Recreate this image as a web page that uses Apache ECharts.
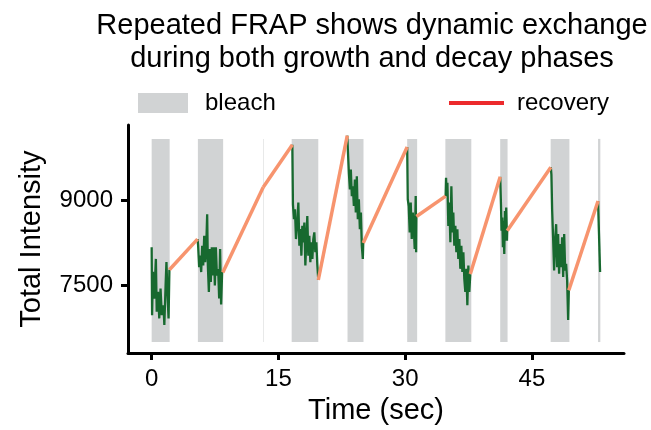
<!DOCTYPE html>
<html>
<head>
<meta charset="utf-8">
<script src="https://cdn.jsdelivr.net/npm/echarts@6/dist/echarts.min.js"></script>
<style>
  html, body { margin: 0; padding: 0; background: #fff; }
  #chart { width: 651px; height: 430px; }
</style>
</head>
<body>
<div id="chart"></div>
<script>
// bleach windows: [start sec, end sec]
const bleachSpans = [
  [0, 2.13], [5.47, 8.46], [13.18, 13.24], [16.57, 19.72], [23.18, 25.07],
  [30.24, 31.42], [34.76, 37.83], [41.25, 42.12], [47.22, 49.44], [52.83, 53.1],
]
const bleachRange = [6500, 10085]

// intensity traces during each bleach window, [sec, intensity]
const trace1 = [
  [0.0, 8172], [0.05, 6975], [0.15, 7740], [0.3, 7267], [0.5, 7967], [0.6, 7035],
  [0.75, 7385], [0.9, 6917], [1.05, 7442], [1.2, 6975], [1.4, 7150], [1.5, 6800],
  [1.65, 7500], [1.75, 7910], [1.85, 7442], [2.0, 6917], [2.1, 7775],
]
const trace2 = [
  [5.43, 8317], [5.5, 8200], [5.62, 7822], [5.74, 8025], [5.86, 7735], [5.98, 8200],
  [6.1, 7850], [6.22, 8375], [6.33, 7910], [6.45, 8140], [6.57, 8755], [6.65, 7850],
  [6.77, 7385], [6.89, 8142], [7.0, 7560], [7.12, 8172], [7.24, 7675], [7.36, 8172],
  [7.48, 7500], [7.6, 8172], [7.72, 7675], [7.87, 7790], [7.99, 7267], [8.1, 8142],
  [8.22, 7162], [8.34, 7735], [8.42, 7728],
]
const trace2b = [[13.2, 9233]]
const trace3 = [
  [16.65, 9980], [16.72, 8930], [16.84, 8667], [16.96, 8842], [17.08, 8317], [17.24, 8610],
  [17.36, 8960], [17.48, 8200], [17.6, 8492], [17.72, 8025], [17.83, 8550], [17.95, 8260],
  [18.07, 8610], [18.19, 7850], [18.31, 8317], [18.42, 8725], [18.54, 8025], [18.66, 8375],
  [18.78, 7910], [18.9, 8260], [19.02, 7967], [19.13, 8317], [19.25, 8435], [19.37, 8085],
  [19.49, 8260], [19.61, 7850], [19.72, 7595],
]
const trace4 = [
  [23.15, 10143], [23.22, 9892], [23.34, 9485], [23.46, 9192], [23.57, 9542], [23.69, 9075],
  [23.81, 9250], [23.93, 8900], [24.05, 9367], [24.16, 8785], [24.28, 9425], [24.4, 8667],
  [24.52, 9017], [24.64, 8492], [24.76, 8785], [24.87, 8200], [24.99, 7967], [25.04, 8247],
]
const trace5 = [
  [30.24, 9940], [30.31, 9017], [30.42, 8900], [30.54, 8435], [30.66, 8960], [30.78, 8317],
  [30.9, 8785], [31.01, 8550], [31.13, 8142], [31.25, 9075], [31.3, 8085], [31.33, 8715],
]
const trace6 = [
  [34.79, 9075], [34.84, 9397], [34.91, 9075], [35.0, 9310], [35.11, 8550], [35.23, 8960],
  [35.35, 8260], [35.47, 9250], [35.59, 8435], [35.7, 8785], [35.82, 8200], [35.94, 8550],
  [36.06, 8085], [36.18, 8492], [36.29, 7967], [36.41, 8317], [36.53, 7792], [36.65, 8200],
  [36.77, 7735], [36.89, 8085], [37.0, 7617], [37.12, 7385], [37.24, 7792], [37.36, 7150],
  [37.48, 7850], [37.59, 7385], [37.71, 7699],
]
const trace7 = [
  [41.25, 9415], [41.34, 8930], [41.41, 8463], [41.49, 8697], [41.57, 8172], [41.64, 8638],
  [41.73, 8055], [41.81, 8813], [41.88, 8288], [41.96, 8872], [42.05, 8288], [42.08, 8463],
]
const trace8 = [
  [47.24, 9583], [47.31, 9455], [47.4, 8813], [47.51, 8347], [47.63, 7763], [47.75, 8288],
  [47.87, 8580], [47.99, 7822], [48.1, 8405], [48.22, 7705], [48.34, 8230], [48.46, 7822],
  [48.58, 8347], [48.7, 7647], [48.82, 8405], [48.94, 7763], [49.05, 7880], [49.17, 7588],
  [49.29, 6888], [49.37, 7413],
]
const trace9 = [[52.83, 8988], [53.07, 7735]]

const traces = [trace1, trace2, trace2b, trace3, trace4, trace5, trace6, trace7, trace8, trace9]

const xTicks = [0, 15, 30, 45]
const yTicks = [7500, 9000]

const font = 'Liberation Sans, Arial, sans-serif'
const gray = '#d1d3d4'
const green = '#17692f'
const salmon = '#f7946e'
const red = '#ec2a2c'

const bleachSeries = {
  name: 'bleach',
  type: 'custom',
  z: 1,
  silent: true,
  itemStyle: { color: gray },
  encode: { x: [0, 1], y: [2, 3] },
  data: bleachSpans.map(([a, b]) => [a, b, bleachRange[0], bleachRange[1]]),
  renderItem: (params, api) => {
    const p0 = api.coord([api.value(0), api.value(3)])
    const p1 = api.coord([api.value(1), api.value(2)])
    return {
      type: 'rect',
      shape: { x: p0[0], y: p0[1], width: p1[0] - p0[0], height: p1[1] - p0[1] },
      style: { fill: gray },
    }
  },
}

const traceSeries = traces.map((t) => ({
  type: 'line',
  z: 2,
  data: t,
  showSymbol: false,
  symbol: 'none',
  lineStyle: { color: green, width: 2.3 },
}))

const recoverySeries = []
for (let i = 0; i < traces.length - 1; i++) {
  const from = traces[i][traces[i].length - 1]
  const to = traces[i + 1][0]
  recoverySeries.push({
    name: 'recovery',
    type: 'line',
    z: 3,
    data: [from, to],
    symbol: 'none',
    itemStyle: { color: red },
    lineStyle: { color: salmon, width: 3.5 },
  })
}

const chart = echarts.init(document.getElementById('chart'))
chart.setOption({
  animation: false,
  title: {
    text: 'Repeated FRAP shows dynamic exchange\nduring both growth and decay phases',
    left: 367,
    top: 4,
    textAlign: 'center',
    textStyle: { fontFamily: font, fontSize: 29, fontWeight: 'normal', color: '#000', lineHeight: 33 },
  },
  legend: [
    {
      left: 133,
      top: 86,
      itemWidth: 50,
      itemHeight: 20,
      selectedMode: false,
      data: [{ name: 'bleach', icon: 'rect', itemStyle: { color: gray } }],
      textStyle: { fontFamily: font, fontSize: 24, color: '#000', padding: [0, 0, 0, 12] },
    },
    {
      left: 444,
      top: 86,
      itemWidth: 55,
      itemHeight: 4,
      selectedMode: false,
      data: [{ name: 'recovery', icon: 'rect', itemStyle: { color: red } }],
      textStyle: { fontFamily: font, fontSize: 24, color: '#000', padding: [0, 0, 0, 8] },
    },
  ],
  grid: { left: 128, right: 27, top: 125, bottom: 75 },
  xAxis: {
    type: 'value',
    min: -2.8,
    max: 55.9,
    name: 'Time (sec)',
    nameLocation: 'middle',
    nameGap: 42,
    nameTextStyle: { fontFamily: font, fontSize: 29, color: '#000' },
    axisLine: { onZero: false, lineStyle: { color: '#000', width: 3 } },
    axisTick: { length: 7, customValues: xTicks, lineStyle: { color: '#000', width: 3 } },
    axisLabel: { customValues: xTicks, margin: 14, fontFamily: font, fontSize: 24, color: '#000' },
    splitLine: { show: false },
  },
  yAxis: {
    type: 'value',
    min: 6305,
    max: 10330,
    name: 'Total Intensity',
    nameLocation: 'middle',
    nameGap: 82,
    nameTextStyle: { fontFamily: font, fontSize: 29, color: '#000' },
    axisLine: { show: true, onZero: false, lineStyle: { color: '#000', width: 3 } },
    axisTick: { show: true, length: 7, customValues: yTicks, lineStyle: { color: '#000', width: 3 } },
    axisLabel: {
      customValues: yTicks,
      margin: 15,
      fontFamily: font,
      fontSize: 24,
      color: '#000',
      formatter: (v) => String(v),
    },
    splitLine: { show: false },
  },
  series: [bleachSeries, ...traceSeries, ...recoverySeries],
})
</script>
</body>
</html>
